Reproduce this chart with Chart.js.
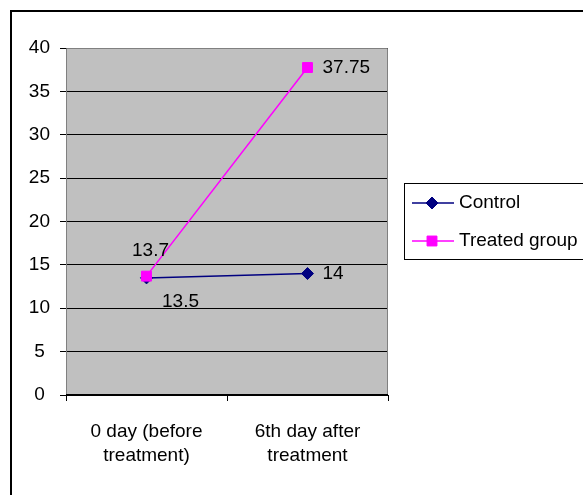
<!DOCTYPE html>
<html lang="en">
<head>
    <meta charset="UTF-8">
    <title>Control vs Treated group</title>
    <script src="https://cdn.jsdelivr.net/npm/chart.js"></script>
    <style>
        body {
            margin: 0;
            background: white;
        }
        #chart {
            display: block;
        }
    </style>
</head>
<body>
    <canvas id="chart" width="583" height="495"></canvas>

    <script>
        // Data
        const categories = [['0 day (before', 'treatment)'], ['6th day after', 'treatment']];
        const seriesNames = ['Control', 'Treated group'];
        const controlValues = [13.5, 14];
        const treatedValues = [13.7, 37.75];
        const yTicks = { min: 0, max: 40, step: 5 };

        const FONT = 'Arial, "Liberation Sans", sans-serif';

        // gray plot area, its border and the outer frame
        const frame = {
            id: 'frame',
            beforeDraw(chart) {
                const { ctx, chartArea: a } = chart;
                ctx.save();
                ctx.fillStyle = '#ffffff';
                ctx.fillRect(0, 0, chart.width, chart.height);
                ctx.fillStyle = '#c0c0c0';
                ctx.fillRect(a.left, a.top, a.right - a.left, a.bottom - a.top);
                ctx.strokeStyle = '#000000';
                ctx.lineWidth = 2;
                ctx.strokeRect(11, 11, 700, 700);
                ctx.restore();
            },
            beforeDatasetsDraw(chart) {
                const { ctx, chartArea: a } = chart;
                ctx.save();
                ctx.lineWidth = 1;
                ctx.strokeStyle = '#808080';
                ctx.beginPath();
                ctx.moveTo(a.left + 0.5, a.bottom);
                ctx.lineTo(a.left + 0.5, a.top + 0.5);
                ctx.lineTo(a.right - 0.5, a.top + 0.5);
                ctx.lineTo(a.right - 0.5, a.bottom);
                ctx.stroke();
                ctx.strokeStyle = '#000000';
                ctx.beginPath();
                ctx.moveTo(a.left, a.bottom - 0.5);
                ctx.lineTo(a.right, a.bottom - 0.5);
                ctx.stroke();
                ctx.restore();
            }
        };

        // value labels next to the points
        const valueLabels = {
            id: 'valueLabels',
            afterDatasetsDraw(chart) {
                const ctx = chart.ctx;
                ctx.save();
                ctx.font = '19px ' + FONT;
                ctx.fillStyle = '#000000';
                ctx.textBaseline = 'middle';
                chart.data.datasets.forEach((ds, i) => {
                    chart.getDatasetMeta(i).data.forEach((pt, j) => {
                        const pos = ds.labelPos[j];
                        let x = pt.x, y = pt.y;
                        if (pos === 'right') {
                            ctx.textAlign = 'left';
                            x += 15;
                        } else if (pos === 'above') {
                            ctx.textAlign = 'center';
                            x += 4;
                            y -= 25;
                        } else {
                            ctx.textAlign = 'center';
                            x += 34;
                            y += 24;
                        }
                        ctx.fillText(String(ds.data[j]), x, y);
                    });
                });
                ctx.restore();
            }
        };

        // boxed legend on the right
        const sideLegend = {
            id: 'sideLegend',
            afterDraw(chart) {
                const ctx = chart.ctx;
                const box = { x: 404, y: 183, w: 200, h: 76 };
                ctx.save();
                ctx.fillStyle = '#ffffff';
                ctx.fillRect(box.x, box.y, box.w, box.h);
                ctx.strokeStyle = '#000000';
                ctx.lineWidth = 1;
                ctx.strokeRect(box.x + 0.5, box.y + 0.5, box.w, box.h);
                chart.data.datasets.forEach((ds, i) => {
                    const y = 203 + i * 38;
                    ctx.strokeStyle = ds.borderColor;
                    ctx.lineWidth = 1.5;
                    ctx.beginPath();
                    ctx.moveTo(412, y);
                    ctx.lineTo(454, y);
                    ctx.stroke();
                    ctx.fillStyle = ds.pointBackgroundColor;
                    ctx.strokeStyle = ds.pointBorderColor;
                    ctx.lineWidth = 1;
                    Chart.helpers.drawPoint(ctx, {
                        pointStyle: ds.pointStyle,
                        radius: ds.pointRadius,
                        borderWidth: 1
                    }, 432, y);
                    ctx.fillStyle = '#000000';
                    ctx.font = '19px ' + FONT;
                    ctx.textAlign = 'left';
                    ctx.textBaseline = 'middle';
                    ctx.fillText(ds.label, 459, y);
                });
                ctx.restore();
            }
        };

        const ctx = document.getElementById('chart').getContext('2d');
        const chart = new Chart(ctx, {
            type: 'line',
            data: {
                labels: categories,
                datasets: [{
                    label: seriesNames[0],
                    data: controlValues,
                    order: 1,
                    borderColor: '#000080',
                    borderWidth: 1.5,
                    pointStyle: 'rectRot',
                    pointRadius: 6,
                    pointBackgroundColor: '#000080',
                    pointBorderColor: '#000080',
                    pointBorderWidth: 1,
                    labelPos: ['below', 'right']
                }, {
                    label: seriesNames[1],
                    data: treatedValues,
                    order: 0,
                    borderColor: '#ff00ff',
                    borderWidth: 1.5,
                    pointStyle: 'rect',
                    pointRadius: 7,
                    pointBackgroundColor: '#ff00ff',
                    pointBorderColor: '#ff00ff',
                    pointBorderWidth: 1,
                    labelPos: ['above', 'right']
                }]
            },
            options: {
                responsive: false,
                animation: false,
                layout: {
                    padding: { left: 0, top: 48, right: 195, bottom: 0 }
                },
                plugins: {
                    legend: { display: false },
                    tooltip: { enabled: false }
                },
                scales: {
                    x: {
                        offset: true,
                        afterFit(scale) { scale.height = 100; },
                        grid: {
                            offset: true,
                            drawOnChartArea: false,
                            color: '#000000',
                            tickLength: 6
                        },
                        border: { display: false },
                        ticks: {
                            color: '#000000',
                            padding: 18,
                            maxRotation: 0,
                            font: { family: FONT, size: 19, lineHeight: 1.3 }
                        }
                    },
                    y: {
                        min: yTicks.min,
                        max: yTicks.max,
                        afterFit(scale) { scale.width = 66; },
                        grid: {
                            color: '#000000',
                            tickLength: 6
                        },
                        border: { display: false },
                        ticks: {
                            stepSize: yTicks.step,
                            color: '#000000',
                            padding: 10,
                            crossAlign: 'center',
                            font: { family: FONT, size: 19 }
                        }
                    }
                }
            },
            plugins: [frame, valueLabels, sideLegend]
        });
    </script>
</body>
</html>
